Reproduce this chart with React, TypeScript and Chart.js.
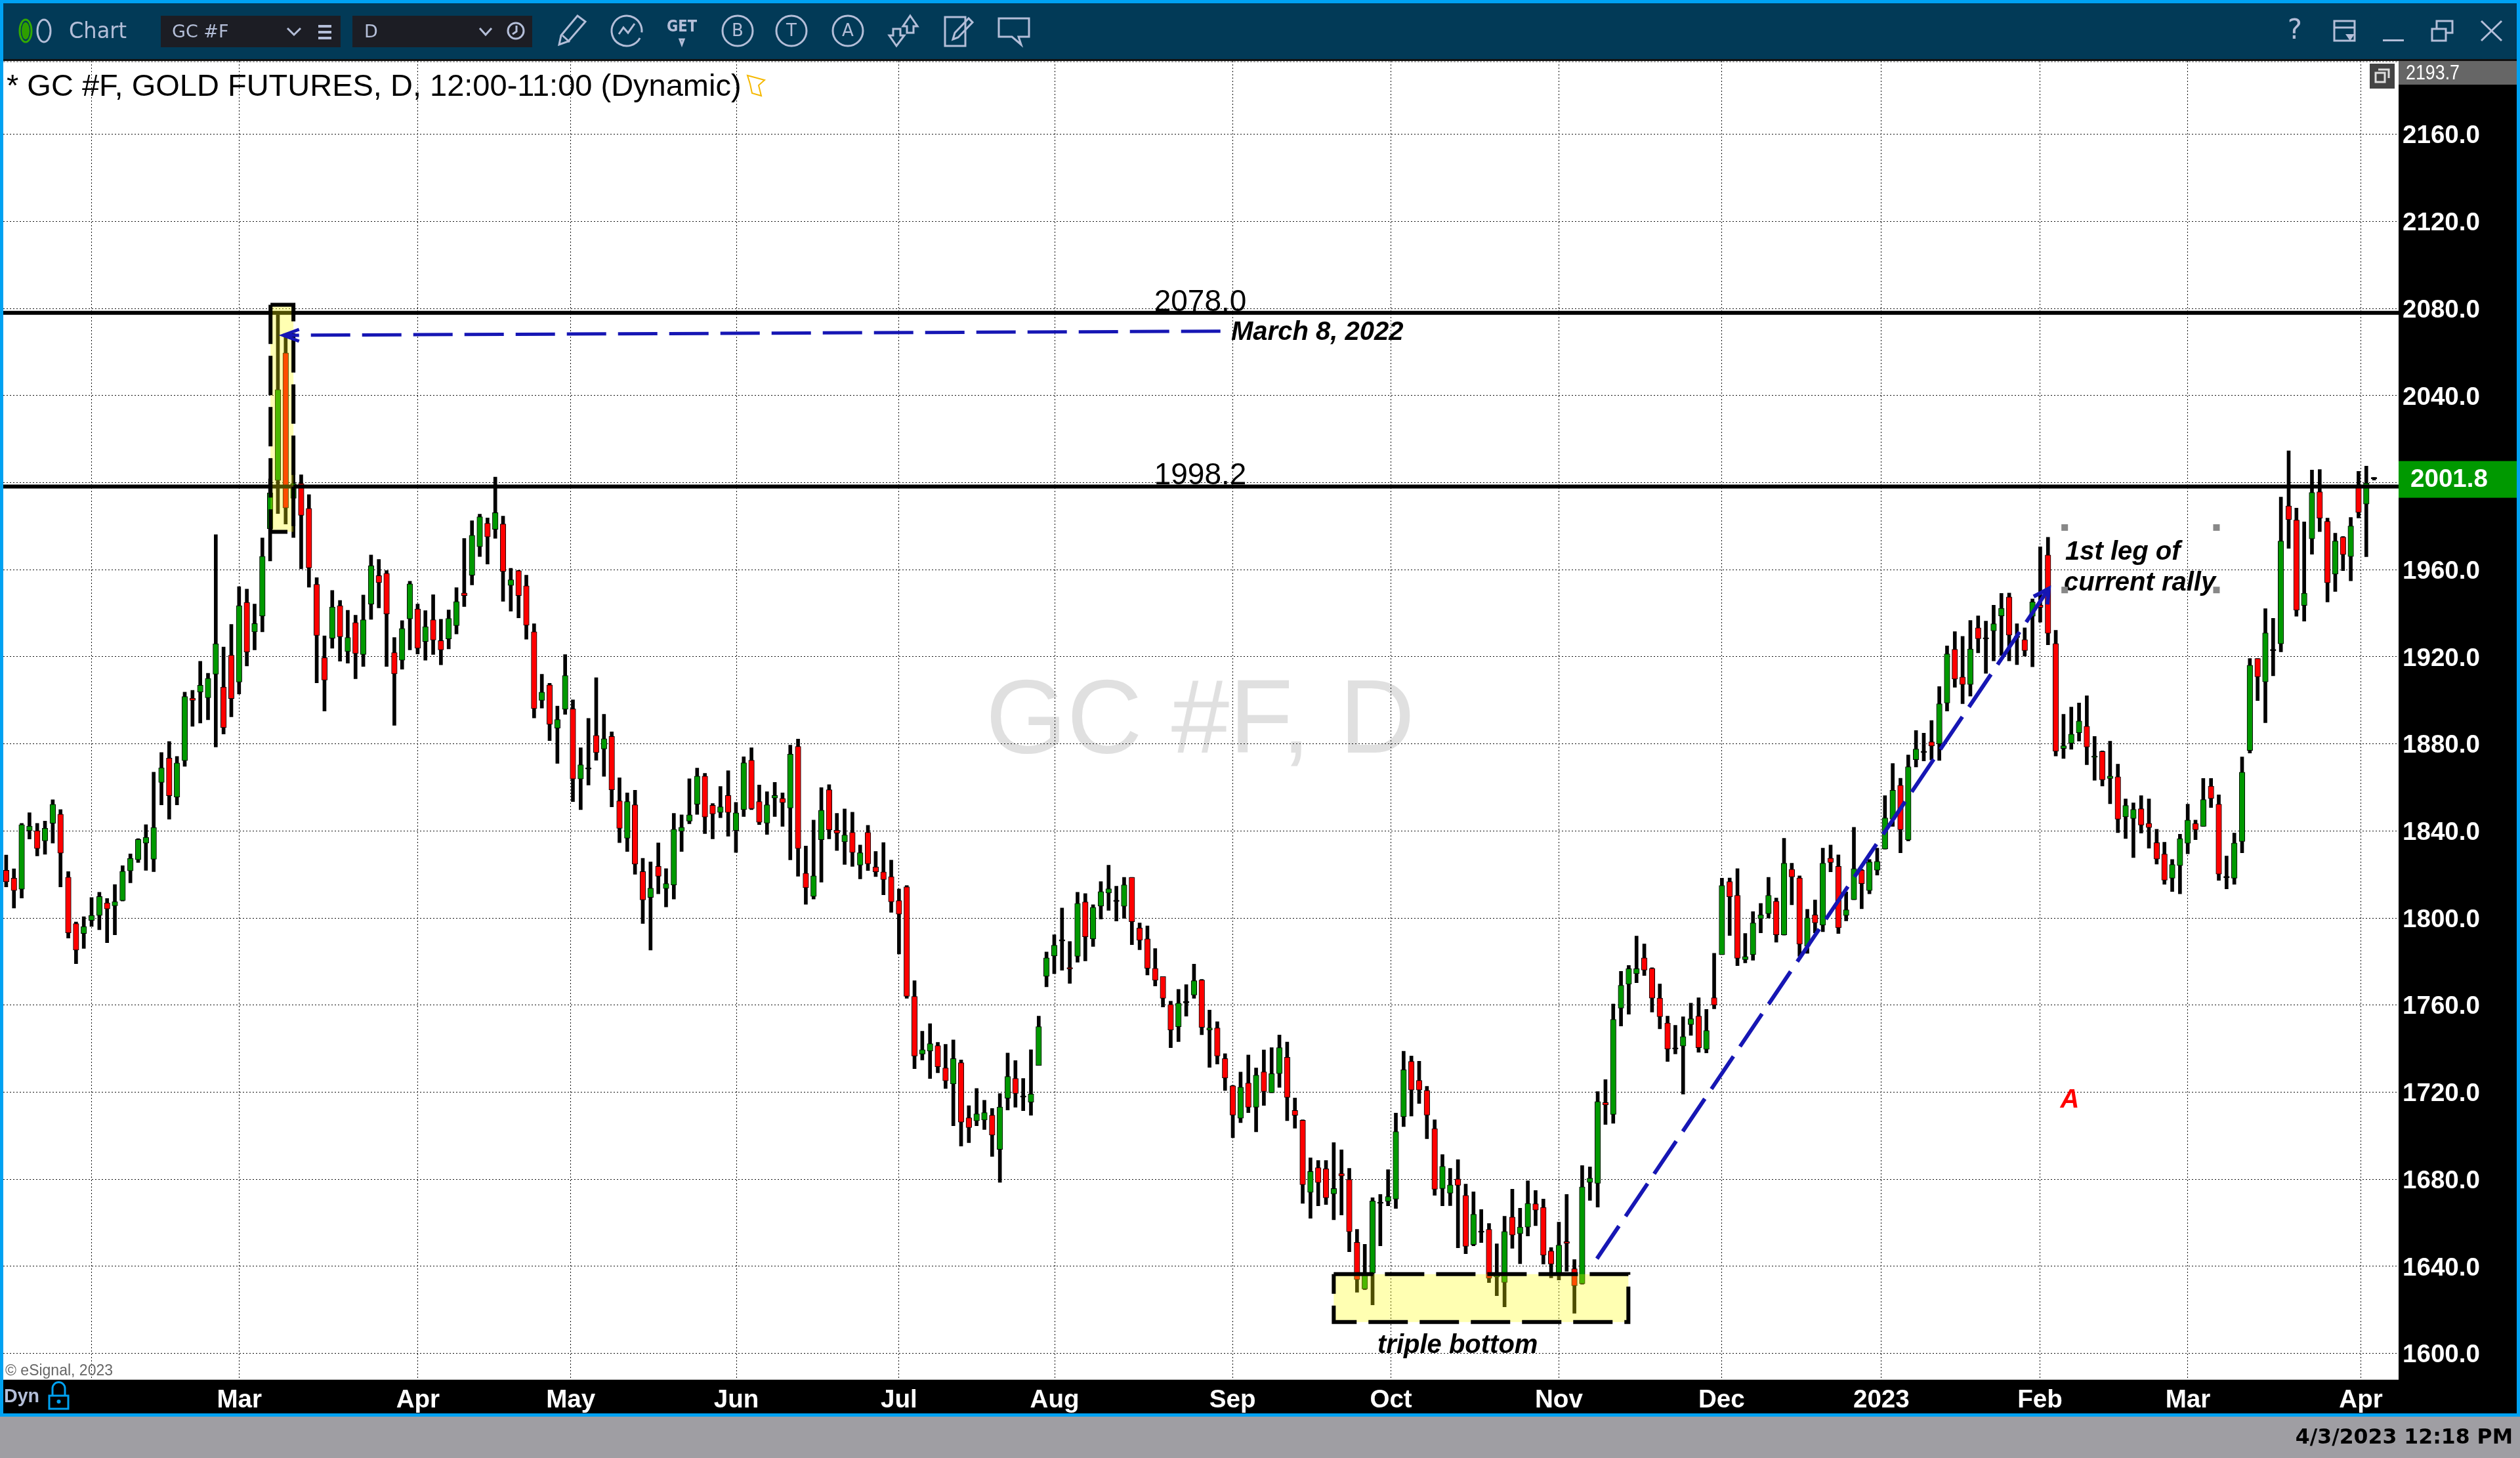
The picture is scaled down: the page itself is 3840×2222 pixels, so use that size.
import React, { useEffect, useRef } from "react";
import { Chart, registerables } from "chart.js";

Chart.register(...registerables);

const opens = [
  1821.9,1818.3,1813.2,1840.1,1840.1,1835.5,1843.5,1847.7,1818.8,1797.4,
  1792.9,1798.9,1801.2,1806.9,1805.6,1808,1821.7,1826.8,1834.4,1827,
  1862.3,1873.5,1855.6,1872.3,1901,1903.8,1901.2,1912,1906.1,1920.7,
  1908.4,1945,1931.5,1938.7,1978.8,2001,2059.6,1992.8,1999.6,1988.2,
  1953.3,1919.6,1928.5,1943.5,1922.4,1935.7,1921.1,1944.2,1957.3,1958.3,
  1921.9,1918.4,1937.4,1942,1927,1937,1927.4,1928.2,1934.3,1949.3,
  1957.5,1970.6,1981.3,1978.6,1981,1952.8,1959.5,1952.6,1931.5,1900,
  1907.1,1887.2,1895.9,1896.1,1863.9,1868.4,1883.9,1877.7,1883.4,1853.8,
  1836.7,1852,1821.3,1809.5,1823.7,1813.5,1815.2,1839.8,1844.5,1852.3,
  1865.2,1851.8,1848.5,1856.3,1840.2,1849.8,1872.5,1853.5,1843.6,1855.1,
  1854.9,1850.5,1878.8,1820.6,1809.9,1836,1858.9,1840.3,1835,1839.3,
  1824.3,1839.3,1823.4,1821.2,1819,1808,1814.3,1764,1737.5,1738.9,
  1741.4,1731.1,1723.8,1733.5,1708.2,1706.8,1707.2,1709.4,1693.7,1717.2,
  1726.3,1717.7,1715.4,1732.3,1773.2,1782.6,1789.4,1777.2,1782.4,1807.4,
  1790.4,1805.5,1811.5,1807.6,1805.4,1818.7,1795.4,1790.4,1776.9,1773.1,
  1760.3,1750.1,1761,1764.6,1771.5,1748.6,1749.5,1735.4,1722.9,1708,
  1724.2,1713.1,1729.3,1719.7,1728.5,1736,1711.6,1707.1,1674,1685.3,
  1684.8,1673.3,1682.6,1679.9,1651,1629.6,1636.9,1668.9,1669.8,1670.9,
  1708.7,1734.1,1725.4,1720.8,1703.2,1675.7,1673.6,1680.1,1672.6,1650,
  1655.6,1657,1635.1,1632.6,1662.6,1655,1658,1668.7,1667.1,1647,
  1636.7,1651.3,1638.9,1632,1678.6,1678.1,1715.2,1709.8,1758.6,1769.6,
  1774.4,1781.7,1776.9,1763.2,1751.8,1739.8,1741.2,1751.1,1754.9,1739.7,
  1763.4,1783.2,1816.7,1810.4,1780.9,1783.2,1799.7,1802,1807.7,1792.3,
  1822.4,1818.4,1787,1801.4,1796.7,1827.5,1823.7,1801.2,1808.4,1822,
  1812.6,1822,1831.7,1845.4,1861,1835.9,1872.8,1876,1880.9,1880,
  1898.8,1923.4,1910.7,1907.3,1933.3,1928.2,1931.9,1938.8,1947.5,1928.9,
  1927.9,1938.6,1943.7,1966.8,1926.1,1877.9,1880.3,1885.1,1888.1,1873.8,
  1876.5,1864.1,1864.9,1846.5,1845.7,1850.2,1843.5,1834.6,1829.4,1818.3,
  1824.1,1834.3,1843.4,1842.1,1860.6,1852.3,1818.5,1818.3,1835.2,1877,
  1919.2,1908.5,1922.8,1926,1989.3,1982.8,1943.6,1974.2,1995.8,1982.2,
  1958,1975,1966.1,1998.1,1990.2,2001.8,
];

const highs = [
  1828.9,1822.6,1843.5,1848.4,1843.5,1844.5,1854.3,1849.8,1821.3,1798.2,
  1800.6,1809.4,1811.8,1809,1815.4,1824,1829.5,1836.5,1842.9,1867,
  1876,1881.1,1874.2,1903.8,1904.6,1917.9,1912.4,1976.1,1924.5,1934.9,
  1952.2,1951.1,1944.2,1974.6,2001.7,2077.2,2067.3,2003.8,2003.6,1994.5,
  1956.4,1929.6,1950.5,1945.9,1941.4,1939.1,1948.4,1966.8,1964.7,1959.6,
  1928.9,1936.6,1954.7,1944.2,1941.2,1948.5,1937.2,1941.5,1951.8,1974.4,
  1982.5,1985.5,1983.8,2002.6,1984.6,1960.7,1959.7,1957.5,1935.2,1912,
  1907.8,1897.4,1921,1900.2,1878.2,1891.7,1910.4,1893.6,1885.5,1864.4,
  1857.5,1858.7,1827.4,1825.8,1834.5,1822.7,1848.1,1847.4,1864,1868.9,
  1866.5,1852.6,1860.4,1867.7,1853.1,1874.1,1878.2,1861.1,1858,1862.3,
  1857.5,1879.4,1882.2,1833.1,1845,1859.9,1861.3,1848.1,1850.1,1848.6,
  1833.5,1842.6,1830.6,1834.7,1826.6,1813.3,1814.9,1771.2,1748,1751.5,
  1742.9,1742,1744,1734.8,1713.8,1721.7,1716.3,1712.5,1719.4,1738,
  1734.5,1726.3,1739.5,1754.9,1784.4,1792.3,1804.6,1789.2,1811.8,1811.2,
  1806.1,1816.7,1824.3,1814.6,1818.7,1818.7,1797.7,1796.4,1786,1773.1,
  1761.8,1767.2,1769.4,1778.8,1771.8,1757.7,1752.4,1737.7,1723.1,1729.2,
  1737.1,1731.1,1739.4,1740.5,1746.3,1743,1717.3,1707.3,1689.8,1688.6,
  1688.6,1696.8,1693.5,1685,1657,1650.1,1671.5,1673,1684.4,1710.4,
  1738.8,1736.6,1734.2,1722.7,1707.3,1691.3,1685,1689,1677.8,1674.2,
  1666.1,1659.7,1650.3,1663,1675.4,1666.7,1679.3,1674.8,1670.9,1648.6,
  1660.3,1673,1643.1,1686.3,1685.7,1720.3,1725.8,1760.5,1775.5,1778.2,
  1791.7,1788.1,1777.2,1769.7,1754.9,1750.7,1754.6,1760.9,1763.4,1758,
  1783.8,1818.3,1818.4,1822.7,1792.9,1802.9,1806.7,1818.7,1809.2,1836.6,
  1825.2,1819.4,1804,1808.3,1832.1,1833.5,1829,1812,1841.7,1822.4,
  1826.9,1832.1,1856.2,1871,1864.2,1874.9,1886.1,1884.9,1890.7,1906.3,
  1925,1931.6,1929.4,1936.7,1938.8,1936.4,1943.7,1949.1,1949.3,1935.2,
  1933.3,1946.6,1970.5,1974.9,1932.2,1893.6,1896.9,1898.8,1902.1,1883.4,
  1876.8,1881.2,1870.7,1854.7,1852.9,1856.2,1854.7,1840.8,1834.8,1826.9,
  1838.5,1852.3,1845,1864.1,1864.1,1856.6,1828.5,1839,1874,1919.2,
  1919.2,1942.1,1937.7,1993.4,2014.6,1988.3,1982,2005.8,2006,1983.7,
  1976.8,1975.3,1984,2005.2,2007.6,2002.4,
];

const lows = [
  1814.3,1804.6,1809.2,1836.3,1828.5,1829.3,1834.4,1814.3,1790.8,1779,
  1786,1796.1,1794.6,1788.7,1792.3,1807.8,1816.2,1825.5,1821.9,1821.3,
  1852,1845.4,1852,1869.7,1888.1,1889.6,1891.1,1878.6,1884.5,1892.4,
  1902.9,1915.8,1923.2,1931.5,1964,1985.8,1981,1974.8,1960.4,1952,
  1908,1895.1,1923.9,1918,1917.1,1909.9,1915.6,1937.2,1942.5,1915.6,
  1888.5,1914.3,1923.2,1921.3,1918.4,1921.1,1916.3,1923.6,1930.5,1943.1,
  1953,1966.1,1962.6,1974.4,1945.5,1941,1937.9,1928.1,1891.9,1896.4,
  1881.5,1871,1893.6,1853.5,1849.8,1861.1,1872.5,1865.1,1851.1,1834.6,
  1830.6,1820.1,1797.5,1785.3,1811.1,1805.1,1808.7,1830.6,1843.3,1847.6,
  1838.8,1836.4,1846.1,1837.6,1830.1,1846.6,1849.8,1842.9,1838.4,1846.6,
  1842.1,1826.7,1819.2,1806.3,1808.7,1816.5,1836.4,1831,1824.6,1823.7,
  1818,1821.8,1819,1810.7,1802.6,1783.5,1763.1,1730.8,1734.8,1726.3,
  1728.9,1721.7,1704.6,1695.2,1696.8,1704.6,1702.8,1690.5,1678.6,1711.8,
  1713.1,1711.5,1709.4,1732.3,1768.4,1774.4,1776,1770,1779.7,1780.3,
  1786.9,1799.5,1803.5,1798.6,1799.8,1787.8,1785.4,1773.8,1768.8,1759.1,
  1740.4,1743.2,1754.9,1763.1,1746.4,1731.4,1732.9,1720.8,1699.1,1706,
  1710.6,1701.8,1713.9,1719.7,1722.2,1706.9,1703.4,1668.9,1662.1,1667.8,
  1668.4,1661.4,1663.6,1646.7,1628.1,1629.3,1622.3,1649.4,1667.8,1666.6,
  1704.2,1709,1714.8,1698.6,1672.6,1667.8,1667.9,1648.5,1645.8,1649.4,
  1650.9,1632.5,1626.5,1621.4,1648.3,1641.2,1653.9,1658.7,1641,1634.7,
  1633.7,1637.7,1618.4,1631.8,1670.3,1667.2,1705.2,1705.7,1750.4,1755.8,
  1770.3,1773.6,1756.8,1749.1,1734.1,1737.6,1719.1,1746.1,1738.3,1738,
  1758.3,1783.2,1792,1778.1,1779.4,1780.6,1793.2,1800,1788.9,1792.1,
  1806.1,1782.4,1783.8,1793.2,1793.7,1821.2,1792.9,1798.7,1808.4,1804.3,
  1811.1,1819.7,1831.6,1842.1,1830,1835.4,1869.4,1872.2,1872.6,1872.4,
  1895.1,1906,1898.5,1901.9,1921.8,1912.4,1918.1,1920.6,1918.1,1916.4,
  1920.3,1915.4,1935.9,1925.5,1874.4,1873.3,1877.5,1881.3,1870.4,1863.3,
  1860.6,1852.5,1839.2,1836.5,1827.8,1839,1832.1,1824.8,1815.5,1812.2,
  1811.1,1829.5,1836,1842.1,1850.8,1817.3,1813.4,1815.5,1830,1875.8,
  1899.9,1889.7,1911.3,1922.3,1969.8,1938.6,1936.4,1967.1,1977.5,1945.2,
  1950,1959.6,1954.9,1983.8,1966,2001.2,
];

const closes = [
  1816.6,1812.6,1842.9,1842.2,1831.9,1841.2,1852.2,1829.8,1793.2,1785.3,
  1796.1,1801.2,1809.9,1804.2,1807.5,1821.5,1827.4,1836.1,1837.1,1841.6,
  1869,1856.2,1871.2,1901.7,1900,1906.9,1910.1,1926,1887.5,1900.8,
  1943.5,1922.2,1935.3,1966.2,1995.3,2042.7,1988.4,1999.6,1985,1960.9,
  1929.8,1909.3,1942.9,1929.2,1928.9,1921.5,1937,1961.9,1954.1,1939.7,
  1912.2,1933,1953.5,1923.9,1933.8,1927.7,1923.2,1937.6,1945.4,1948.1,
  1975.8,1984.3,1975.1,1986.2,1959.2,1955.4,1948.1,1934.5,1896.2,1903.8,
  1889,1891.2,1911.4,1863.9,1870.4,1868.4,1876,1882.4,1858.9,1841.2,
  1853.5,1824.8,1808.3,1813.7,1819.2,1815.8,1840.8,1841.7,1847.4,1865.2,
  1846.4,1847.8,1851.1,1848.5,1848.3,1871.3,1850.2,1844,1852,1856.3,
  1853,1875.3,1831.9,1813.9,1819.4,1849.5,1840.5,1839,1838.1,1830.1,
  1830,1824.9,1821.2,1817.7,1807.4,1801.8,1764,1736.6,1739.5,1742.3,
  1731.7,1725.2,1735.4,1706.2,1703.7,1710,1710.6,1700.3,1713.2,1727.2,
  1719.4,1717.7,1719.1,1750.1,1781.7,1787.5,1789.4,1776.6,1806.7,1791.4,
  1804.9,1812.1,1813.4,1807.6,1815.2,1798.3,1789.8,1776.9,1771.4,1763.1,
  1748.6,1760.9,1761,1771.2,1749.8,1749.5,1736.6,1726.5,1709.5,1722.3,
  1713.1,1727.8,1720.3,1728.5,1740.5,1717.6,1709.4,1677.5,1683.6,1678.5,
  1671.5,1675.7,1681.5,1655.9,1633.9,1637.1,1670,1668.9,1672,1701.9,
  1730.3,1721,1721,1709.5,1675.4,1685.9,1677.4,1677.2,1649.2,1663.9,
  1655.6,1634.5,1637.1,1656,1654.4,1658,1668.9,1665.8,1645.1,1641,
  1649.7,1650.5,1631.1,1676.5,1680.5,1715.7,1714.1,1753.4,1769.1,1776.7,
  1776.7,1776.1,1763.2,1754.7,1739.8,1739.8,1745.5,1753.7,1740.4,1748.3,
  1760,1814.9,1809.8,1781.5,1782.3,1797.7,1801.4,1810.4,1792.3,1825.2,
  1818.9,1788,1800.1,1797.8,1825.2,1825.5,1795.5,1803.8,1822.7,1815.8,
  1825.8,1826,1846,1858.7,1840.6,1869.5,1877.6,1876,1879,1898.4,
  1921.3,1909.8,1907.3,1923.6,1928.3,1928.2,1935.2,1942.3,1930,1928.9,
  1922.9,1945.2,1942.7,1930.8,1876.6,1879.1,1884.5,1890.5,1878.6,1874.3,
  1863.5,1865.2,1845.4,1851.7,1849.9,1842.7,1841.6,1827.1,1817.4,1824.6,
  1836.5,1845,1840.6,1854.4,1854.9,1820.2,1818.5,1834.4,1867,1916.1,
  1910.8,1931,1922.8,1973.2,1983,1941.4,1949.2,1995.5,1983.7,1954,
  1973.2,1967,1980.1,1986.3,1999.8,2001.8,
];

const monthTickPositions = [11.01, 30.04, 53.04, 72.72, 94.05, 115, 135.05, 157.97, 178.37, 200, 220.95, 241.54, 261.97, 281.02, 303.3];
const monthTickLabels = ["", "Mar", "Apr", "May", "Jun", "Jul", "Aug", "Sep", "Oct", "Nov", "Dec", "2023", "Feb", "Mar", "Apr"];
const priceTicks = [1600, 1640, 1680, 1720, 1760, 1800, 1840, 1880, 1920, 1960, 2000, 2040, 2080, 2120, 2160];

const levels = [2078.0, 1998.2];
const lastPrice = 2001.8;
const topPrice = 2193.7;

const peakBox = { i0: 34.05, i1: 37.0, p0: 1977.4, p1: 2081.7 };
const bottomBox = { i0: 171.0, i1: 208.95, p0: 1614.4, p1: 1636.4 };
const marchArrow = { i0: 156.6, p0: 2069.6, i1: 35.7, p1: 2067.7 };
const rallyArrow = { i0: 204.9, p0: 1643.5, i1: 263.1, p1: 1951.3 };
const rallyHandles = { i0: 265.15, i1: 284.7, p0: 1950.7, p1: 1979.4 };

const FRAME = "#00a2f2";
const BAR = "#023a57";
const LIGHT = "#b4bed8";
const SANS = '"Liberation Sans", Arial, sans-serif';
const DEJA = '"DejaVu Sans", sans-serif';
const UP = "#009900";
const DOWN = "#ff0000";
const BLUE = "#1616b4";

const bodyColor = (i: number) => (closes[i] > opens[i] ? UP : closes[i] < opens[i] ? DOWN : "#000000");

function text(ctx: any, s: string, x: number, y: number, font: string, color: string, align = "left", maxW?: number) {
  ctx.save();
  ctx.font = font;
  ctx.fillStyle = color;
  ctx.textAlign = align;
  ctx.textBaseline = "middle";
  if (maxW) ctx.fillText(s, x, y, maxW);
  else ctx.fillText(s, x, y);
  ctx.restore();
}

function poly(ctx: any, pts: number[][], close = false) {
  ctx.beginPath();
  pts.forEach((p, i) => (i ? ctx.lineTo(p[0], p[1]) : ctx.moveTo(p[0], p[1])));
  if (close) ctx.closePath();
  ctx.stroke();
}

function drawToolbar(ctx: any) {
  const W = 3840;
  ctx.fillStyle = BAR;
  ctx.fillRect(5, 5, W - 10, 85);
  ctx.fillStyle = "#111111";
  ctx.fillRect(5, 90, W - 10, 3);

  ctx.strokeStyle = "#33aa00";
  ctx.lineWidth = 3;
  ctx.fillStyle = "#2e9e00";
  ctx.beginPath();
  ctx.ellipse(39, 47, 6, 13, 0, 0, Math.PI * 2);
  ctx.fill();
  ctx.beginPath();
  ctx.ellipse(39, 47, 9, 17, 0, 0, Math.PI * 2);
  ctx.stroke();
  ctx.strokeStyle = LIGHT;
  ctx.beginPath();
  ctx.ellipse(67, 47, 10, 17, 0, 0, Math.PI * 2);
  ctx.stroke();
  text(ctx, "Chart", 105, 49, `34px ${DEJA}`, LIGHT, "left", 88);

  ctx.fillStyle = "#1c1d24";
  ctx.fillRect(245, 24, 274, 48);
  ctx.fillRect(537, 24, 274, 48);
  text(ctx, "GC #F", 262, 50, `27px ${DEJA}`, LIGHT);
  text(ctx, "D", 555, 50, `27px ${DEJA}`, LIGHT);
  ctx.strokeStyle = LIGHT;
  ctx.lineWidth = 3;
  poly(ctx, [[438, 43], [448, 53], [458, 43]]);
  poly(ctx, [[731, 43], [740, 53], [749, 43]]);
  ctx.fillStyle = LIGHT;
  [38, 47, 56].forEach((y) => ctx.fillRect(485, y, 20, 4));
  ctx.beginPath();
  ctx.arc(786, 47, 12, 0, Math.PI * 2);
  ctx.stroke();
  poly(ctx, [[787, 39], [787, 48], [781, 52]]);

  // pencil
  ctx.lineWidth = 3;
  poly(ctx, [[852, 68], [855, 54], [880, 24], [892, 33], [866, 63]], true);
  poly(ctx, [[857, 54], [868, 64]]);
  // circled tools
  ctx.beginPath();
  ctx.arc(955, 47, 23, 0.5, Math.PI * 2 + 0.1);
  ctx.stroke();
  poly(ctx, [[943, 52], [950, 42], [957, 50], [967, 36]]);
  text(ctx, "GET", 1039, 42, `bold 24px ${DEJA}`, LIGHT, "center", 46);
  poly(ctx, [[1036, 60], [1042, 60], [1039, 68]], true);
  [["B", 1124], ["T", 1206], ["A", 1292]].forEach(([s, x]: any) => {
    ctx.beginPath();
    ctx.arc(x, 47, 23, 0, Math.PI * 2);
    ctx.stroke();
    text(ctx, s, x, 48, `26px ${DEJA}`, LIGHT, "center");
  });
  // arrows
  poly(ctx, [[1387, 24], [1398, 40], [1392, 40], [1392, 50], [1382, 50], [1382, 40], [1376, 40]], true);
  poly(ctx, [[1366, 70], [1355, 54], [1361, 54], [1361, 44], [1372, 44], [1372, 54], [1378, 54]], true);
  // note
  ctx.strokeRect(1440, 26, 31, 44);
  poly(ctx, [[1452, 60], [1455, 50], [1476, 28], [1482, 34], [1460, 57]], true);
  // speech bubble
  poly(ctx, [[1522, 28], [1568, 28], [1568, 56], [1552, 56], [1556, 68], [1542, 56], [1522, 56]], true);

  // right-hand window controls
  text(ctx, "?", 3497, 48, `42px ${DEJA}`, LIGHT, "center");
  ctx.strokeRect(3557, 32, 31, 30);
  poly(ctx, [[3557, 42], [3588, 42]]);
  ctx.fillStyle = LIGHT;
  ctx.beginPath();
  ctx.moveTo(3574, 52);
  ctx.lineTo(3588, 52);
  ctx.lineTo(3581, 62);
  ctx.closePath();
  ctx.fill();
  ctx.fillRect(3631, 60, 32, 3);
  ctx.strokeRect(3706, 44, 21, 18);
  poly(ctx, [[3713, 44], [3713, 32], [3737, 32], [3737, 50], [3727, 50]]);
  poly(ctx, [[3781, 32], [3812, 62]]);
  poly(ctx, [[3812, 32], [3781, 62]]);
}

const chromeBefore = {
  id: "chromeBefore",
  beforeDraw(chart: any) {
    const ctx = chart.ctx;
    const a = chart.chartArea;
    ctx.save();
    ctx.fillStyle = "#000000";
    ctx.fillRect(0, 0, 3840, 2154);
    ctx.fillStyle = "#ffffff";
    ctx.fillRect(a.left, a.top, a.right - a.left, a.bottom - a.top);
    ctx.fillStyle = "#9f9ea3";
    ctx.fillRect(0, 2159, 3840, 63);
    ctx.fillStyle = FRAME;
    ctx.fillRect(0, 0, 3840, 5);
    ctx.fillRect(0, 0, 5, 2159);
    ctx.fillRect(3835, 0, 5, 2159);
    ctx.fillRect(0, 2154, 3840, 5);
    ctx.restore();
    text(ctx, "GC #F, D", 1829, 1103, `159px ${SANS}`, "#e0e0e0", "center");
  },
};

function dashedRect(ctx: any, x: any, y: any, b: any) {
  const l = x.getPixelForValue(b.i0), r = x.getPixelForValue(b.i1);
  const t = y.getPixelForValue(b.p1), u = y.getPixelForValue(b.p0);
  ctx.fillStyle = "rgba(255,255,0,0.3)";
  ctx.fillRect(l, t, r - l, u - t);
  ctx.strokeStyle = "#000000";
  ctx.lineWidth = 6;
  ctx.setLineDash([60, 18]);
  ctx.beginPath();
  ctx.moveTo(l, t);
  ctx.lineTo(r, t);
  ctx.lineTo(r, u);
  ctx.lineTo(l, u);
  ctx.lineTo(l, t);
  ctx.stroke();
  ctx.setLineDash([]);
}

const overlays = {
  id: "overlays",
  afterDatasetsDraw(chart: any) {
    const ctx = chart.ctx;
    const x = chart.scales.x;
    const y = chart.scales.y;
    const a = chart.chartArea;
    ctx.save();

    // top edge of the plot
    ctx.strokeStyle = "#555555";
    ctx.lineWidth = 1;
    ctx.setLineDash([3, 2]);
    ctx.beginPath();
    ctx.moveTo(a.left, a.top + 1);
    ctx.lineTo(a.right, a.top + 1);
    ctx.stroke();
    ctx.setLineDash([]);

    // horizontal levels
    ctx.strokeStyle = "#000000";
    ctx.lineWidth = 6;
    levels.forEach((p) => {
      const py = y.getPixelForValue(p);
      ctx.beginPath();
      ctx.moveTo(a.left, py);
      ctx.lineTo(a.right, py);
      ctx.stroke();
      text(ctx, p.toFixed(1), 1829, py - 16, `46px ${SANS}`, "#000000", "center");
    });

    dashedRect(ctx, x, y, peakBox);
    dashedRect(ctx, x, y, bottomBox);

    // March 8 arrow
    ctx.strokeStyle = BLUE;
    ctx.lineWidth = 5;
    const mx0 = x.getPixelForValue(marchArrow.i0), my0 = y.getPixelForValue(marchArrow.p0);
    const mx1 = x.getPixelForValue(marchArrow.i1), my1 = y.getPixelForValue(marchArrow.p1);
    ctx.setLineDash([60, 18]);
    ctx.lineDashOffset = 36;
    ctx.beginPath();
    ctx.moveTo(mx1, my1);
    ctx.lineTo(mx0, my0);
    ctx.stroke();
    ctx.setLineDash([]);
    ctx.lineDashOffset = 0;
    poly(ctx, [[mx1 + 24, my1 - 9], [mx1, my1], [mx1 + 24, my1 + 9]]);

    // rally arrow
    const rx0 = x.getPixelForValue(rallyArrow.i0), ry0 = y.getPixelForValue(rallyArrow.p0);
    const rx1 = x.getPixelForValue(rallyArrow.i1), ry1 = y.getPixelForValue(rallyArrow.p1);
    ctx.lineWidth = 6;
    ctx.setLineDash([60, 18]);
    ctx.beginPath();
    ctx.moveTo(rx0, ry0);
    ctx.lineTo(rx1, ry1);
    ctx.stroke();
    ctx.setLineDash([]);
    poly(ctx, [[rx1 - 23, ry1 + 12], [rx1, ry1], [rx1 - 2, ry1 + 24]]);

    // annotations
    const bi = `italic bold 40px ${SANS}`;
    text(ctx, "March 8, 2022", 1876, 507, bi, "#000000");
    text(ctx, "triple bottom", 2099, 2051, bi, "#000000");
    text(ctx, "1st leg of", 3147, 842, bi, "#000000");
    text(ctx, "current rally", 3145, 889, bi, "#000000");
    text(ctx, "A", 3154, 1677, bi, "#ff0000", "center");
    ctx.fillStyle = "#888888";
    [rallyHandles.i0, rallyHandles.i1].forEach((i) => {
      [rallyHandles.p0, rallyHandles.p1].forEach((p) => {
        ctx.fillRect(x.getPixelForValue(i) - 5, y.getPixelForValue(p) - 5, 10, 10);
      });
    });

    // title and credits
    text(ctx, "* GC #F, GOLD FUTURES, D, 12:00-11:00 (Dynamic)", 10, 133, `47px ${SANS}`, "#000000");
    ctx.strokeStyle = "#f5b800";
    ctx.lineWidth = 2;
    poly(ctx, [[1139, 115], [1165, 122], [1156, 130], [1160, 146], [1146, 142], [1143, 128]], true);
    text(ctx, "\u00a9 eSignal, 2023", 8, 2090, `23px ${SANS}`, "#666666");

    // bottom strip
    text(ctx, "Dyn", 6, 2129, `bold 30px ${SANS}`, LIGHT, "left", 54);
    ctx.strokeStyle = FRAME;
    ctx.lineWidth = 3;
    ctx.strokeRect(75, 2127, 29, 20);
    ctx.beginPath();
    ctx.moveTo(80, 2127);
    ctx.lineTo(80, 2116);
    ctx.arc(89.5, 2116, 9.5, Math.PI, 0);
    ctx.lineTo(99, 2127);
    ctx.stroke();
    ctx.fillStyle = FRAME;
    ctx.beginPath();
    ctx.arc(89.5, 2136, 3, 0, Math.PI * 2);
    ctx.fill();
    text(ctx, "4/3/2023 12:18 PM", 3829, 2192, `bold 31.5px ${DEJA}`, "#000000", "right");

    // right-axis flags
    const lastY = y.getPixelForValue(lastPrice);
    ctx.fillStyle = UP;
    ctx.fillRect(3655, lastY - 27, 180, 56);
    text(ctx, lastPrice.toFixed(1), 3673, lastY + 2, `bold 38.6px ${SANS}`, "#ffffff");
    ctx.fillStyle = "#666666";
    ctx.fillRect(3655, 93, 180, 36);
    text(ctx, topPrice.toFixed(1), 3666, 112, `31px ${SANS}`, "#ffffff", "left", 82);
    ctx.fillStyle = "#444444";
    ctx.fillRect(3611, 97, 38, 38);
    ctx.strokeStyle = "#dddddd";
    ctx.lineWidth = 3;
    ctx.strokeRect(3620, 111, 14, 14);
    poly(ctx, [[3624, 106], [3640, 106], [3640, 119]]);

    drawToolbar(ctx);
    ctx.restore();
  },
};

export default function App() {
  const ref = useRef<HTMLCanvasElement | null>(null);

  useEffect(() => {
    document.body.style.margin = "0";
    document.documentElement.style.overflow = "hidden";
    const wickData = highs.map((h, i) => ({ x: i, y: [lows[i], h] }));
    const bodyData = opens.map((o, i) => ({ x: i, y: [Math.min(o, closes[i]), Math.max(o, closes[i])] }));
    const chart = new Chart(ref.current as HTMLCanvasElement, {
      type: "bar",
      data: {
        datasets: [
          {
            label: "Body",
            data: bodyData as any,
            barThickness: 8.6,
            minBarLength: 2,
            backgroundColor: opens.map((_, i) => bodyColor(i)),
            borderColor: "#000000",
            borderWidth: 1,
            borderSkipped: false,
            grouped: false,
          },
          {
            label: "Wick",
            data: wickData as any,
            barThickness: 5,
            backgroundColor: "#000000",
            borderWidth: 0,
            grouped: false,
          },
        ],
      },
      plugins: [chromeBefore, overlays],
      options: {
        animation: false,
        responsive: false,
        devicePixelRatio: 1,
        layout: { padding: { left: 5, top: 93, right: 0, bottom: 0 }, autoPadding: false },
        plugins: { legend: { display: false }, tooltip: { enabled: false }, title: { display: false } },
        scales: {
          x: {
            type: "linear",
            min: -0.372,
            max: 308.16,
            offset: false,
            afterFit(s: any) {
              s.height = 119.3;
            },
            afterBuildTicks(s: any) {
              s.ticks = monthTickPositions.map((v) => ({ value: v }));
            },
            grid: { color: "#111111", lineWidth: 1, drawTicks: false, offset: false },
            border: { display: false, dash: [2, 3] },
            ticks: {
              autoSkip: false,
              maxRotation: 0,
              minRotation: 0,
              padding: 8,
              color: "#ffffff",
              font: { family: "Liberation Sans", size: 38.6, weight: "bold" },
              callback(v: any) {
                return monthTickLabels[monthTickPositions.indexOf(v)] ?? "";
              },
            },
          },
          y: {
            type: "linear",
            position: "right",
            min: 1587.9,
            max: topPrice,
            afterFit(s: any) {
              s.width = 185;
            },
            afterBuildTicks(s: any) {
              s.ticks = priceTicks.map((v) => ({ value: v }));
            },
            grid: { color: "#111111", lineWidth: 1, drawTicks: false },
            border: { display: false, dash: [2, 3] },
            ticks: {
              autoSkip: false,
              padding: 6,
              labelOffset: 3,
              color: "#ffffff",
              font: { family: "Liberation Sans", size: 38.6, weight: "bold" },
              callback(v: any) {
                return Number(v).toFixed(1);
              },
            },
          },
        },
      } as any,
    });
    return () => chart.destroy();
  }, []);

  return <canvas ref={ref} width={3840} height={2222} style={{ display: "block", position: "absolute", left: 0, top: 0 }} />;
}
